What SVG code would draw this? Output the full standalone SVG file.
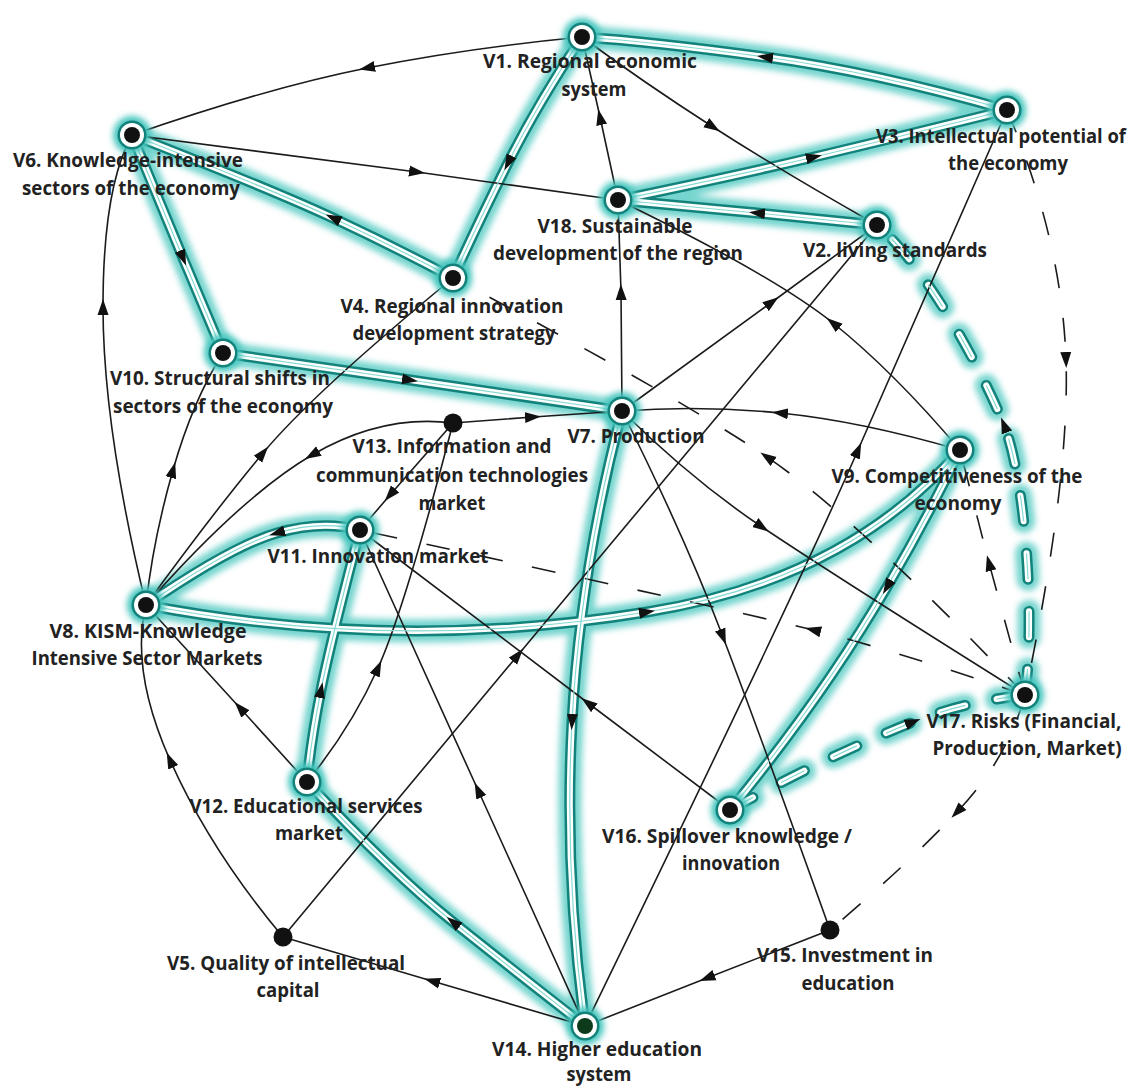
<svg xmlns="http://www.w3.org/2000/svg" width="1137" height="1088" viewBox="0 0 1137 1088">
<defs>
<style>
.ln{fill:none;stroke:#1b1b1b;stroke-width:1.6;marker-mid:url(#ah)}
.dsh{stroke-dasharray:24 30}
.tg{fill:none;stroke:#46c6be;stroke-width:23;stroke-linecap:round}
.tb{fill:none;stroke:#12827b;stroke-width:11;stroke-linecap:round}
.tw{fill:none;stroke:#ffffff;stroke-width:6;stroke-linecap:round}
.tc{fill:none;stroke:#86dad4;stroke-width:1.2;marker-mid:url(#ah)}
.td{stroke-dasharray:26 32}
.lbl{font-family:"Open Sans","Liberation Sans",sans-serif;font-weight:700;font-size:20px;fill:#222;text-anchor:middle}
.hg{fill:#46c6be}
.hr{fill:#12827b}
.hw{fill:#ffffff}
.hd{fill:#111111}
</style>
<filter id="blur" x="-30%" y="-30%" width="160%" height="160%"><feGaussianBlur stdDeviation="3"/></filter>
<marker id="ah" markerUnits="userSpaceOnUse" markerWidth="16" markerHeight="12" refX="8" refY="6" orient="auto" viewBox="0 0 16 12"><path d="M0,0.5 L16,6 L0,11.5 Z" fill="#111"/></marker>
<path id="t1" d="M1007,110 Q875,72 765,57 Q655,42 582,37"/>
<path id="t2" d="M582,37 Q538,103 508,163 Q478,223 453,278"/>
<path id="t3" d="M453,278 Q393,246 333,218 Q273,190 132,135"/>
<path id="t4" d="M132,135 L183,258 L223,353"/>
<path id="t5" d="M223,353 L410,380 L622,411"/>
<path id="t6" d="M618,200 Q734,176 814,157 Q894,138 1007,110"/>
<path id="t7" d="M877,225 L757,213 L618,200"/>
<path id="t8" d="M622,411 Q580,572 572,722 Q564,872 585,1026"/>
<path id="t9" d="M585,1026 Q513,970 453,922 Q393,874 307,782"/>
<path id="t10" d="M307,782 Q311,740 321,690 Q331,640 360,530"/>
<path id="t11" d="M360,530 Q322,520 277,533 Q232,546 146,605"/>
<path id="t12" d="M146,605 Q397,653 647,612 Q847,580 960,450"/>
<path id="t13" d="M960,450 Q928,517 887,587 Q823,697 730,810"/>
<path id="t14" d="M730,810 Q823,758 913,722 Q963,702 1025,695"/>
<path id="t15" d="M1025,695 C1035,620 1026,481 1004,425 C985.5,378.5 930,270 877,225"/>
</defs>
<rect width="1137" height="1088" fill="#ffffff"/>

<g id="connectors">
  <g class="glow" filter="url(#blur)" opacity="0.75">
    <use href="#t1" class="tg"/><use href="#t2" class="tg"/><use href="#t3" class="tg"/><use href="#t4" class="tg"/><use href="#t5" class="tg"/><use href="#t6" class="tg"/><use href="#t7" class="tg"/><use href="#t8" class="tg"/><use href="#t9" class="tg"/><use href="#t10" class="tg"/><use href="#t11" class="tg"/><use href="#t12" class="tg"/><use href="#t13" class="tg"/>
    <use href="#t14" class="tg td"/><use href="#t15" class="tg td"/>
  </g>
  <g class="bands">
    <use href="#t1" class="tb"/><use href="#t2" class="tb"/><use href="#t3" class="tb"/><use href="#t4" class="tb"/><use href="#t5" class="tb"/><use href="#t6" class="tb"/><use href="#t7" class="tb"/><use href="#t8" class="tb"/><use href="#t9" class="tb"/><use href="#t10" class="tb"/><use href="#t11" class="tb"/><use href="#t12" class="tb"/><use href="#t13" class="tb"/>
    <use href="#t14" class="tb td"/><use href="#t15" class="tb td"/>
    <use href="#t1" class="tw"/><use href="#t2" class="tw"/><use href="#t3" class="tw"/><use href="#t4" class="tw"/><use href="#t5" class="tw"/><use href="#t6" class="tw"/><use href="#t7" class="tw"/><use href="#t8" class="tw"/><use href="#t9" class="tw"/><use href="#t10" class="tw"/><use href="#t11" class="tw"/><use href="#t12" class="tw"/><use href="#t13" class="tw"/>
    <use href="#t14" class="tw td"/><use href="#t15" class="tw td"/>
  </g>
  <g class="thin">
    <path class="ln" d="M582,37 Q467,48 367,68 Q267,88 132,135"/>
    <path class="ln" d="M132,135 L417,172 L618,200"/>
    <path class="ln" d="M618,200 L600,117 L582,37"/>
    <path class="ln" d="M582,37 Q643,82 713,127 Q783,172 877,225"/>
    <path class="ln" d="M622,411 L621,292 L618,200"/>
    <path class="ln" d="M960,450 Q893,371 833,323 Q773,275 618,200"/>
    <path class="ln" d="M622,411 L772,302 L877,225"/>
    <path class="ln" d="M585,1026 Q798,588 858,450 Q918,312 1007,110"/>
    <path class="ln" d="M283,937 L518,655 L877,225"/>
    <path class="ln" d="M960,450 Q860,421 780,413 Q700,405 622,411"/>
    <path class="ln" d="M622,411 Q692,480 762,527 Q832,574 1025,695"/>
    <path class="ln" d="M622,411 Q685,537 723,637 Q761,737 830,930"/>
    <path class="ln" d="M730,810 L588,703 L360,530"/>
    <path class="ln" d="M585,1026 L478,790 L360,530"/>
    <path class="ln" d="M585,1026 L432,981 L283,937"/>
    <path class="ln" d="M830,930 L707,978 L585,1026"/>
    <path class="ln" d="M283,937 Q210,850 170,760 Q130,670 146,605"/>
    <path class="ln" d="M307,782 L240,708 L146,605"/>
    <path class="ln" d="M307,782 Q351,728 378,668 Q405,608 453,423"/>
    <path class="ln" d="M453,423 L390,495 L360,530"/>
    <path class="ln" d="M453,423 L533,417 L622,411"/>
    <path class="ln" d="M453,423 Q382,414 312,455 Q242,496 146,605"/>
    <path class="ln" d="M146,605 Q213,513 263,453 Q313,393 453,278"/>
    <path class="ln" d="M146,605 Q153,540 173,470 Q193,400 223,353"/>
    <path class="ln" d="M146,605 Q103,427 103,307 Q103,187 132,135"/>
    <path class="ln dsh" d="M1025,695 Q893,650 813,630 Q733,610 360,530"/>
    <path class="ln dsh" d="M1025,695 Q857,518 767,457 Q677,396 453,278"/>
    <path class="ln dsh" d="M1007,110 Q1062,240 1066,360 Q1070,480 1025,695"/>
    <path class="ln dsh" d="M1025,695 Q1007,760 957,812 Q907,865 830,930"/>
    <path class="ln dsh" d="M1025,695 L989,563 L960,450"/>
  </g>
  <g class="band-arrows">
    <use href="#t1" class="tc"/><use href="#t2" class="tc"/><use href="#t3" class="tc"/><use href="#t4" class="tc"/><use href="#t5" class="tc"/><use href="#t6" class="tc"/><use href="#t7" class="tc"/><use href="#t8" class="tc"/><use href="#t9" class="tc"/><use href="#t10" class="tc"/><use href="#t11" class="tc"/><use href="#t12" class="tc"/><use href="#t13" class="tc"/>
    <use href="#t14" class="tc td"/><use href="#t15" class="tc td"/>
  </g>
</g>

<g id="nodes">
<g id="V1"><circle cx="582" cy="37" r="19" class="hg" filter="url(#blur)"/><circle cx="582" cy="37" r="14.5" class="hr"/><circle cx="582" cy="37" r="12" class="hw"/><circle cx="582" cy="37" r="8" class="hd"/>
<text class="lbl" x="590" y="68" textLength="214" lengthAdjust="spacingAndGlyphs">V1. Regional economic</text><text class="lbl" x="594" y="96" textLength="65" lengthAdjust="spacingAndGlyphs">system</text></g>
<g id="V3"><circle cx="1007" cy="110" r="19" class="hg" filter="url(#blur)"/><circle cx="1007" cy="110" r="14.5" class="hr"/><circle cx="1007" cy="110" r="12" class="hw"/><circle cx="1007" cy="110" r="8" class="hd"/>
<text class="lbl" x="1001" y="143" textLength="250" lengthAdjust="spacingAndGlyphs">V3. Intellectual potential of</text><text class="lbl" x="1008" y="170" textLength="120" lengthAdjust="spacingAndGlyphs">the economy</text></g>
<g id="V6"><circle cx="132" cy="135" r="19" class="hg" filter="url(#blur)"/><circle cx="132" cy="135" r="14.5" class="hr"/><circle cx="132" cy="135" r="12" class="hw"/><circle cx="132" cy="135" r="8" class="hd"/>
<text class="lbl" x="128" y="167" textLength="230" lengthAdjust="spacingAndGlyphs">V6. Knowledge-intensive</text><text class="lbl" x="131" y="195" textLength="218" lengthAdjust="spacingAndGlyphs">sectors of the economy</text></g>
<g id="V18"><circle cx="618" cy="200" r="19" class="hg" filter="url(#blur)"/><circle cx="618" cy="200" r="14.5" class="hr"/><circle cx="618" cy="200" r="12" class="hw"/><circle cx="618" cy="200" r="8" class="hd"/>
<text class="lbl" x="615" y="233" textLength="155" lengthAdjust="spacingAndGlyphs">V18. Sustainable</text><text class="lbl" x="618" y="260" textLength="250" lengthAdjust="spacingAndGlyphs">development of the region</text></g>
<g id="V2"><circle cx="877" cy="225" r="19" class="hg" filter="url(#blur)"/><circle cx="877" cy="225" r="14.5" class="hr"/><circle cx="877" cy="225" r="12" class="hw"/><circle cx="877" cy="225" r="8" class="hd"/>
<text class="lbl" x="895" y="257" textLength="184" lengthAdjust="spacingAndGlyphs">V2. living standards</text></g>
<g id="V4"><circle cx="453" cy="278" r="19" class="hg" filter="url(#blur)"/><circle cx="453" cy="278" r="14.5" class="hr"/><circle cx="453" cy="278" r="12" class="hw"/><circle cx="453" cy="278" r="8" class="hd"/>
<text class="lbl" x="452" y="313" textLength="223" lengthAdjust="spacingAndGlyphs">V4. Regional innovation</text><text class="lbl" x="454" y="340" textLength="203" lengthAdjust="spacingAndGlyphs">development strategy</text></g>
<g id="V10"><circle cx="223" cy="353" r="19" class="hg" filter="url(#blur)"/><circle cx="223" cy="353" r="14.5" class="hr"/><circle cx="223" cy="353" r="12" class="hw"/><circle cx="223" cy="353" r="8" class="hd"/>
<text class="lbl" x="220" y="385" textLength="220" lengthAdjust="spacingAndGlyphs">V10. Structural shifts in</text><text class="lbl" x="223" y="413" textLength="220" lengthAdjust="spacingAndGlyphs">sectors of the economy</text></g>
<g id="V7"><circle cx="622" cy="411" r="19" class="hg" filter="url(#blur)"/><circle cx="622" cy="411" r="14.5" class="hr"/><circle cx="622" cy="411" r="12" class="hw"/><circle cx="622" cy="411" r="8" class="hd"/>
<text class="lbl" x="636" y="443" textLength="137" lengthAdjust="spacingAndGlyphs">V7. Production</text></g>
<g id="V13"><circle cx="453" cy="423" r="9.5" class="hd"/>
<text class="lbl" x="452" y="453" textLength="199" lengthAdjust="spacingAndGlyphs">V13. Information and</text><text class="lbl" x="452" y="482" textLength="272" lengthAdjust="spacingAndGlyphs">communication technologies</text><text class="lbl" x="452" y="510" textLength="67" lengthAdjust="spacingAndGlyphs">market</text></g>
<g id="V9"><circle cx="960" cy="450" r="19" class="hg" filter="url(#blur)"/><circle cx="960" cy="450" r="14.5" class="hr"/><circle cx="960" cy="450" r="12" class="hw"/><circle cx="960" cy="450" r="8" class="hd"/>
<text class="lbl" x="957" y="483" textLength="251" lengthAdjust="spacingAndGlyphs">V9. Competitiveness of the</text><text class="lbl" x="958" y="510" textLength="87" lengthAdjust="spacingAndGlyphs">economy</text></g>
<g id="V11"><circle cx="360" cy="530" r="19" class="hg" filter="url(#blur)"/><circle cx="360" cy="530" r="14.5" class="hr"/><circle cx="360" cy="530" r="12" class="hw"/><circle cx="360" cy="530" r="8" class="hd"/>
<text class="lbl" x="378" y="563" textLength="221" lengthAdjust="spacingAndGlyphs">V11. Innovation market</text></g>
<g id="V8"><circle cx="146" cy="605" r="19" class="hg" filter="url(#blur)"/><circle cx="146" cy="605" r="14.5" class="hr"/><circle cx="146" cy="605" r="12" class="hw"/><circle cx="146" cy="605" r="8" class="hd"/>
<text class="lbl" x="148" y="638" textLength="197" lengthAdjust="spacingAndGlyphs">V8. KISM-Knowledge</text><text class="lbl" x="147" y="665" textLength="231" lengthAdjust="spacingAndGlyphs">Intensive Sector Markets</text></g>
<g id="V17"><circle cx="1025" cy="695" r="19" class="hg" filter="url(#blur)"/><circle cx="1025" cy="695" r="14.5" class="hr"/><circle cx="1025" cy="695" r="12" class="hw"/><circle cx="1025" cy="695" r="8" class="hd"/>
<text class="lbl" x="1024" y="728" textLength="195" lengthAdjust="spacingAndGlyphs">V17. Risks (Financial,</text><text class="lbl" x="1027" y="755" textLength="189" lengthAdjust="spacingAndGlyphs">Production, Market)</text></g>
<g id="V12"><circle cx="307" cy="782" r="19" class="hg" filter="url(#blur)"/><circle cx="307" cy="782" r="14.5" class="hr"/><circle cx="307" cy="782" r="12" class="hw"/><circle cx="307" cy="782" r="8" class="hd"/>
<text class="lbl" x="306" y="813" textLength="233" lengthAdjust="spacingAndGlyphs">V12. Educational services</text><text class="lbl" x="309" y="840" textLength="68" lengthAdjust="spacingAndGlyphs">market</text></g>
<g id="V16"><circle cx="730" cy="810" r="19" class="hg" filter="url(#blur)"/><circle cx="730" cy="810" r="14.5" class="hr"/><circle cx="730" cy="810" r="12" class="hw"/><circle cx="730" cy="810" r="8" class="hd"/>
<text class="lbl" x="727" y="843" textLength="250" lengthAdjust="spacingAndGlyphs">V16. Spillover knowledge /</text><text class="lbl" x="731" y="870" textLength="98" lengthAdjust="spacingAndGlyphs">innovation</text></g>
<g id="V15"><circle cx="830" cy="930" r="9.5" class="hd"/>
<text class="lbl" x="845" y="962" textLength="176" lengthAdjust="spacingAndGlyphs">V15. Investment in</text><text class="lbl" x="848" y="990" textLength="93" lengthAdjust="spacingAndGlyphs">education</text></g>
<g id="V5"><circle cx="283" cy="937" r="9.5" class="hd"/>
<text class="lbl" x="286" y="970" textLength="238" lengthAdjust="spacingAndGlyphs">V5. Quality of intellectual</text><text class="lbl" x="288" y="997" textLength="63" lengthAdjust="spacingAndGlyphs">capital</text></g>
<g id="V14"><circle cx="585" cy="1026" r="19" class="hg" filter="url(#blur)"/><circle cx="585" cy="1026" r="14.5" class="hr"/><circle cx="585" cy="1026" r="12" class="hw"/><circle cx="585" cy="1026" r="8" fill="#0e3a1c"/>
<text class="lbl" x="597" y="1056" textLength="210" lengthAdjust="spacingAndGlyphs">V14. Higher education</text><text class="lbl" x="599" y="1081" textLength="65" lengthAdjust="spacingAndGlyphs">system</text></g>
</g>
</svg>
